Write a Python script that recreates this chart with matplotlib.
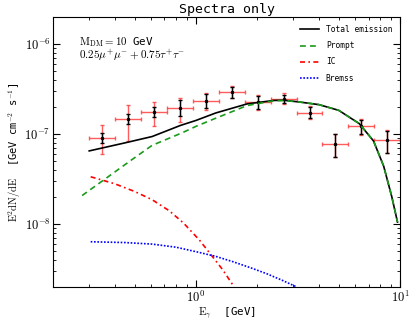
import numpy as np
import matplotlib
matplotlib.use("Agg")
import matplotlib.pyplot as plt
from matplotlib.ticker import FuncFormatter, NullFormatter

plt.rcParams['mathtext.fontset'] = 'cm'
plt.rcParams['font.family'] = 'DejaVu Sans Mono'

# data points (Fermi-like bins)
bin_edges = [0.30, 0.40, 0.54, 0.72, 0.97, 1.29, 1.73, 2.32, 3.11, 4.16, 5.57, 7.46, 9.99]
flux = [9.0e-8, 1.47e-7, 1.75e-7, 1.94e-7, 2.33e-7, 2.94e-7, 2.27e-7, 2.47e-7, 1.72e-7, 7.7e-8, 1.22e-7, 8.6e-8]
stat_lo = [7.9e-8, 1.29e-7, 1.54e-7, 1.61e-7, 1.94e-7, 2.54e-7, 1.91e-7, 2.23e-7, 1.50e-7, 5.5e-8, 1.0e-7, 6.2e-8]
stat_hi = [1.04e-7, 1.68e-7, 2.0e-7, 2.37e-7, 2.77e-7, 3.37e-7, 2.67e-7, 2.74e-7, 2.0e-7, 1.0e-7, 1.45e-7, 1.09e-7]
sys_lo = [6.0e-8, 8.4e-8, 1.24e-7, 1.35e-7, 1.85e-7, 2.5e-7, 1.85e-7, 2.15e-7, 1.46e-7, 5.5e-8, 9.8e-8, 6.2e-8]
sys_hi = [1.26e-7, 2.12e-7, 2.27e-7, 2.5e-7, 2.9e-7, 3.45e-7, 2.75e-7, 2.85e-7, 2.05e-7, 1.0e-7, 1.48e-7, 1.1e-7]

# model curves
tot_E = [0.30, 0.45, 0.61, 0.84, 1.0, 1.25, 1.78, 2.4, 2.7, 3.2, 4.0, 5.0, 6.3, 7.4, 8.3, 9.1, 9.7]
tot_F = [6.5e-8, 8.0e-8, 9.4e-8, 1.25e-7, 1.42e-7, 1.72e-7, 2.17e-7, 2.37e-7, 2.38e-7, 2.28e-7, 2.13e-7, 1.84e-7, 1.31e-7, 8.4e-8, 4.4e-8, 2.0e-8, 1.05e-8]
pr_E = [0.277, 0.48, 0.61, 0.86, 1.0, 1.22, 1.78, 2.4, 2.7, 3.2, 4.0, 5.0, 6.3, 7.4, 8.3, 9.1, 9.7]
pr_F = [2.07e-8, 5.1e-8, 7.5e-8, 1.04e-7, 1.22e-7, 1.47e-7, 2.08e-7, 2.35e-7, 2.37e-7, 2.28e-7, 2.13e-7, 1.84e-7, 1.31e-7, 8.4e-8, 4.4e-8, 2.0e-8, 1.05e-8]
ic_E = [0.305, 0.40, 0.50, 0.61, 0.74, 0.87, 1.04, 1.17, 1.35, 1.52]
ic_F = [3.35e-8, 2.8e-8, 2.3e-8, 1.86e-8, 1.4e-8, 1.02e-8, 6.6e-9, 4.7e-9, 3.1e-9, 2.07e-9]
br_E = [0.305, 0.45, 0.61, 0.8, 1.01, 1.25, 1.53, 1.85, 2.22, 2.65, 3.12]
br_F = [6.33e-9, 6.2e-9, 5.96e-9, 5.5e-9, 4.88e-9, 4.35e-9, 3.77e-9, 3.25e-9, 2.79e-9, 2.35e-9, 1.98e-9]

edges = np.array(bin_edges)
xc = np.sqrt(edges[:-1] * edges[1:])
xerr = [xc - edges[:-1], edges[1:] - xc]
fl = np.array(flux)

fig = plt.figure(figsize=(4.16, 3.26), dpi=100)
ax = fig.add_axes([0.128, 0.1206, 0.834, 0.8264])

# systematic (red) then statistical (black) errors
ax.errorbar(xc, fl, xerr=xerr, yerr=[fl - np.array(sys_lo), np.array(sys_hi) - fl],
            fmt='none', ecolor='#ff4040', elinewidth=1.0, capsize=1.5, alpha=0.85, zorder=2)
ax.errorbar(xc, fl, yerr=[fl - np.array(stat_lo), np.array(stat_hi) - fl],
            fmt='.', color='black', ms=3, elinewidth=1.0, capsize=1.5, zorder=3)

ax.plot(tot_E, tot_F, color='black', lw=1.2, label='Total emission', zorder=4)
ax.plot(pr_E, pr_F, color='#1a9a1a', lw=1.2, ls=(0, (3.5, 2.5)), label='Prompt', zorder=5)
ax.plot(ic_E, ic_F, color='red', lw=1.2, ls=(0, (3, 2, 1, 2)), label='IC', zorder=4)
ax.plot(br_E, br_F, color='blue', lw=1.2, ls=(0, (1, 1)), label='Bremss', zorder=4)

ax.set_xscale('log')
ax.set_yscale('log')
ax.set_xlim(0.2, 10)
ax.set_ylim(2e-9, 2e-6)

fmt = FuncFormatter(lambda v, p: r'$10^{%d}$' % int(round(np.log10(v))))
ax.xaxis.set_major_formatter(fmt)
ax.yaxis.set_major_formatter(fmt)
ax.xaxis.set_minor_formatter(NullFormatter())
ax.yaxis.set_minor_formatter(NullFormatter())

ax.tick_params(which='both', direction='in', top=True, right=True, labelsize=9, pad=2)
ax.tick_params(which='major', length=5)
ax.tick_params(which='minor', length=2.5)

ax.set_title('Spectra only', fontsize=9.5, pad=3)
ax.set_xlabel(r'$\mathrm{E}_\gamma$  [GeV]', fontsize=7.8, labelpad=1)
ax.set_ylabel(r'$\mathrm{E^2dN/dE}$  [GeV cm$^{-2}$ s$^{-1}$]', fontsize=7.5, labelpad=1)

ax.text(0.075, 0.895, r'$\mathrm{M_{DM}}=10$ GeV', transform=ax.transAxes, fontsize=7.8)
ax.text(0.075, 0.843, r'$0.25\mu^{+}\mu^{-}+0.75\tau^{+}\tau^{-}$', transform=ax.transAxes,
        fontsize=8)

ax.legend(loc='upper right', frameon=False, fontsize=5.7, handlelength=2.5,
          borderaxespad=0.6, labelspacing=0.9)

fig.savefig('out.png', dpi=100)
